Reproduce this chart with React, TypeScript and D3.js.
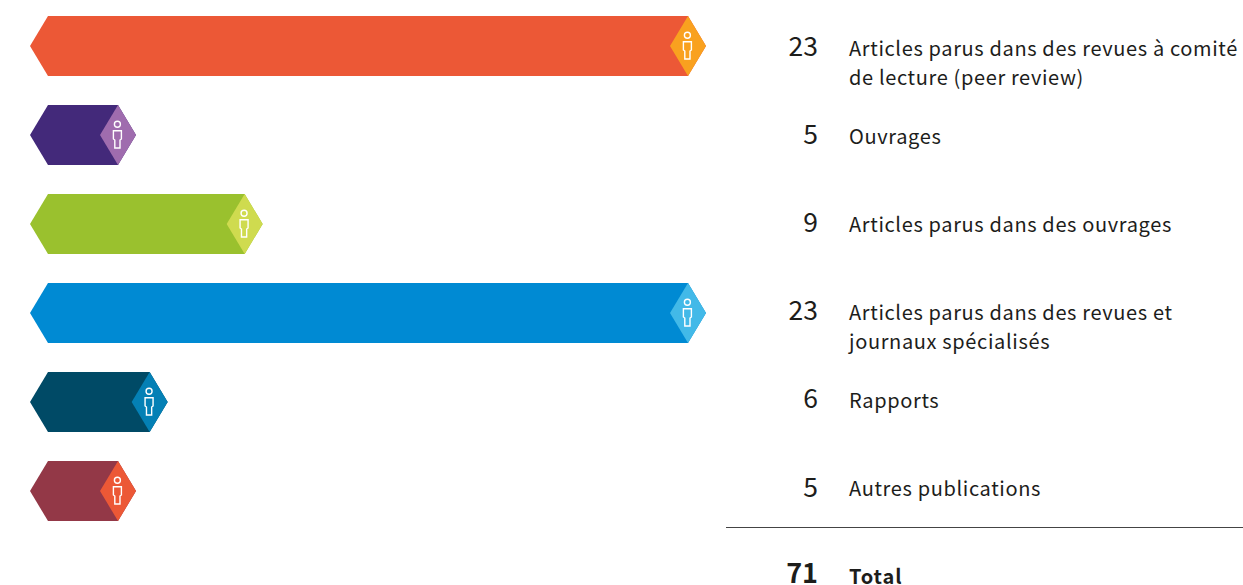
import React from "react";
import * as d3 from "d3";

const values = [23, 5, 9, 23, 6, 5];
const labels = [
  ["Articles parus dans des revues à comité", "de lecture (peer review)"],
  ["Ouvrages"],
  ["Articles parus dans des ouvrages"],
  ["Articles parus dans des revues et", "journaux spécialisés"],
  ["Rapports"],
  ["Autres publications"],
];
const barColors = ["#ec5836", "#43297a", "#9ac12e", "#008ad3", "#004a66", "#933847"];
const tipColors = ["#f9a11f", "#9f6cae", "#cfdb4f", "#42b9e8", "#0480b5", "#ec5836"];
const totalValue = 71;
const totalLabel = "Total";

const FONT = "'Noto Sans CJK SC', 'Noto Sans', sans-serif";
const x = d3.scaleLinear().domain([5, 23]).range([136, 706]);
const y = d3.scalePoint<number>().domain(d3.range(6)).range([46, 491]);
const numberY = d3.scalePoint<number>().domain(d3.range(6)).range([55.5, 496.5]);
const labelY = d3.scalePoint<number>().domain(d3.range(6)).range([56, 496]);

const H = 30; // half bar height
const T = 18; // tip run

export default function App() {
  const line = d3.line();
  return (
    <svg
      width={1243}
      height={585}
      viewBox="0 0 1243 585"
      style={{ position: "absolute", left: 0, top: 0, display: "block", background: "#fff", fontFamily: FONT }}
    >
      {values.map((v, i) => {
        const cy = y(i)!;
        const tip = x(v);
        const left = 30;
        const bar = line([
          [left, cy],
          [left + T, cy - H],
          [tip - T, cy - H],
          [tip, cy],
          [tip - T, cy + H],
          [left + T, cy + H],
        ] as [number, number][])!;
        const diamond = line([
          [tip - T, cy - H],
          [tip, cy],
          [tip - T, cy + H],
          [tip - 2 * T, cy],
        ] as [number, number][])!;
        const px = tip - T - 0.6;
        const person = line([
          [px - 4, cy - 4.3],
          [px + 4, cy - 4.3],
          [px + 4, cy + 4],
          [px + 2.6, cy + 5],
          [px + 2.6, cy + 13],
          [px - 2.6, cy + 13],
          [px - 2.6, cy + 5],
          [px - 4, cy + 4],
        ] as [number, number][])!;
        return (
          <g key={i}>
            <path d={bar + "Z"} fill={barColors[i]} />
            <path d={diamond + "Z"} fill={tipColors[i]} />
            <circle cx={px} cy={cy - 10.8} r={3} fill="none" stroke="#fff" strokeWidth={1.4} />
            <path d={person + "Z"} fill="none" stroke="#fff" strokeWidth={1.4} />
            <text x={818} y={numberY(i)!} textAnchor="end" fontSize={26.5} fill="#1d1d1b">
              {v}
            </text>
            {labels[i].map((t, k) => (
              <text key={k} x={849} y={labelY(i)! + k * 29} fontSize={20} letterSpacing={0.64} fill="#1d1d1b">
                {t}
              </text>
            ))}
          </g>
        );
      })}
      <line x1={726} x2={1243} y1={527.5} y2={527.5} stroke="#444" strokeWidth={1.2} />
      <text x={818} y={583} textAnchor="end" fontSize={27} fontWeight={700} fill="#1d1d1b">
        {totalValue}
      </text>
      <text x={849} y={584} fontSize={20} fontWeight={700} letterSpacing={0.9} fill="#1d1d1b">
        {totalLabel}
      </text>
    </svg>
  );
}
